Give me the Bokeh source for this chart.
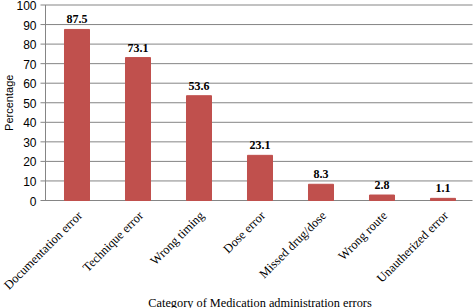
import math
from bokeh.plotting import figure
from bokeh.models import ColumnDataSource, Range1d
from bokeh.core.properties import value
from bokeh.embed import file_html
from bokeh.resources import INLINE

categories = ["Documentation error", "Technique error", "Wrong timing", "Dose error",
              "Missed drug/dose", "Wrong route", "Unautherized error"]
percentages = [87.5, 73.1, 53.6, 23.1, 8.3, 2.8, 1.1]
value_labels = ["87.5", "73.1", "53.6", "23.1", "8.3", "2.8", "1.1"]
y_ticks = [0, 10, 20, 30, 40, 50, 60, 70, 80, 90, 100]
y_tick_labels = ["0", "10", "20", "30", "40", "50", "60", "70", "80", "90", "100"]
x_title = "Category of Medication administration errors"
y_title = "Percentage"

W, H = 473, 308
plot_left, plot_right, plot_top, plot_bottom = 46, 473, 4.5, 200   # pixel frame of the 0..100 area
n = len(categories)
px_per_cat = (plot_right - plot_left) / n
px_per_unit = (plot_bottom - plot_top) / 100.0

def xs(px):   # pixel -> category-slot coordinate
    return (px - plot_left) / px_per_cat

def ys(py):   # pixel -> data y
    return (plot_bottom - py) / px_per_unit

cat_pos = [i + 0.5 for i in range(n)]   # centre of each category slot
bars = ColumnDataSource(dict(x=cat_pos, cat=categories, pct=percentages, lab=value_labels,
                             base=[0] * n))
ticks = ColumnDataSource(dict(y=y_ticks, lab=y_tick_labels))

p = figure(x_range=Range1d(xs(0), xs(W)), y_range=Range1d(ys(H), ys(0)), width=W, height=H,
           output_backend="svg", toolbar_location=None,
           x_axis_location=None, y_axis_location=None, min_border=0)
p.outline_line_color = None
p.background_fill_color = "white"
p.border_fill_color = "white"
p.grid.visible = False

grid_color = "#858585"
# horizontal grid lines (0 line acts as the x axis line)
p.segment(x0=xs(40), x1=xs(472), y0="y", y1="y", source=ticks, line_color=grid_color, line_width=1)
# y axis line
p.segment(x0=[xs(45)], x1=[xs(45)], y0=[y_ticks[0]], y1=[y_ticks[-1]], line_color=grid_color, line_width=1)

p.vbar(x="x", top="pct", width=0.41, source=bars, fill_color="#C0504D", line_color="#C0504D")

# value labels
p.text(x="x", y="pct", text="lab", source=bars, text_align="center", text_baseline="bottom",
       y_offset=-6, text_font=value("Liberation Serif"), text_font_style="bold",
       text_font_size="12px", text_color="black")

# y tick labels
p.text(x=xs(36), y="y", text="lab", source=ticks, text_align="right", text_baseline="middle",
       y_offset=0.5, text_font=value("Liberation Sans"), text_font_size="12px", text_color="black")

# y axis title
p.text(x=[xs(8)], y=[50], text=[y_title], angle=math.pi / 2, text_align="center",
       text_baseline="middle", text_font=value("Liberation Sans"), text_font_size="11px",
       text_color="black")

# category labels
p.text(x="x", y="base", text="cat", source=bars, angle=math.pi / 4, text_align="right",
       text_baseline="middle", x_offset=3, y_offset=13, text_font=value("Liberation Serif"),
       text_font_size="12.5px", text_color="black")

# x axis title
p.text(x=[n / 2], y=[ys(302)], text=[x_title], text_align="center",
       text_baseline="middle", text_font=value("Liberation Serif"), text_font_size="12.3px",
       text_color="black")

open("out.html", "w").write(file_html(p, INLINE))
